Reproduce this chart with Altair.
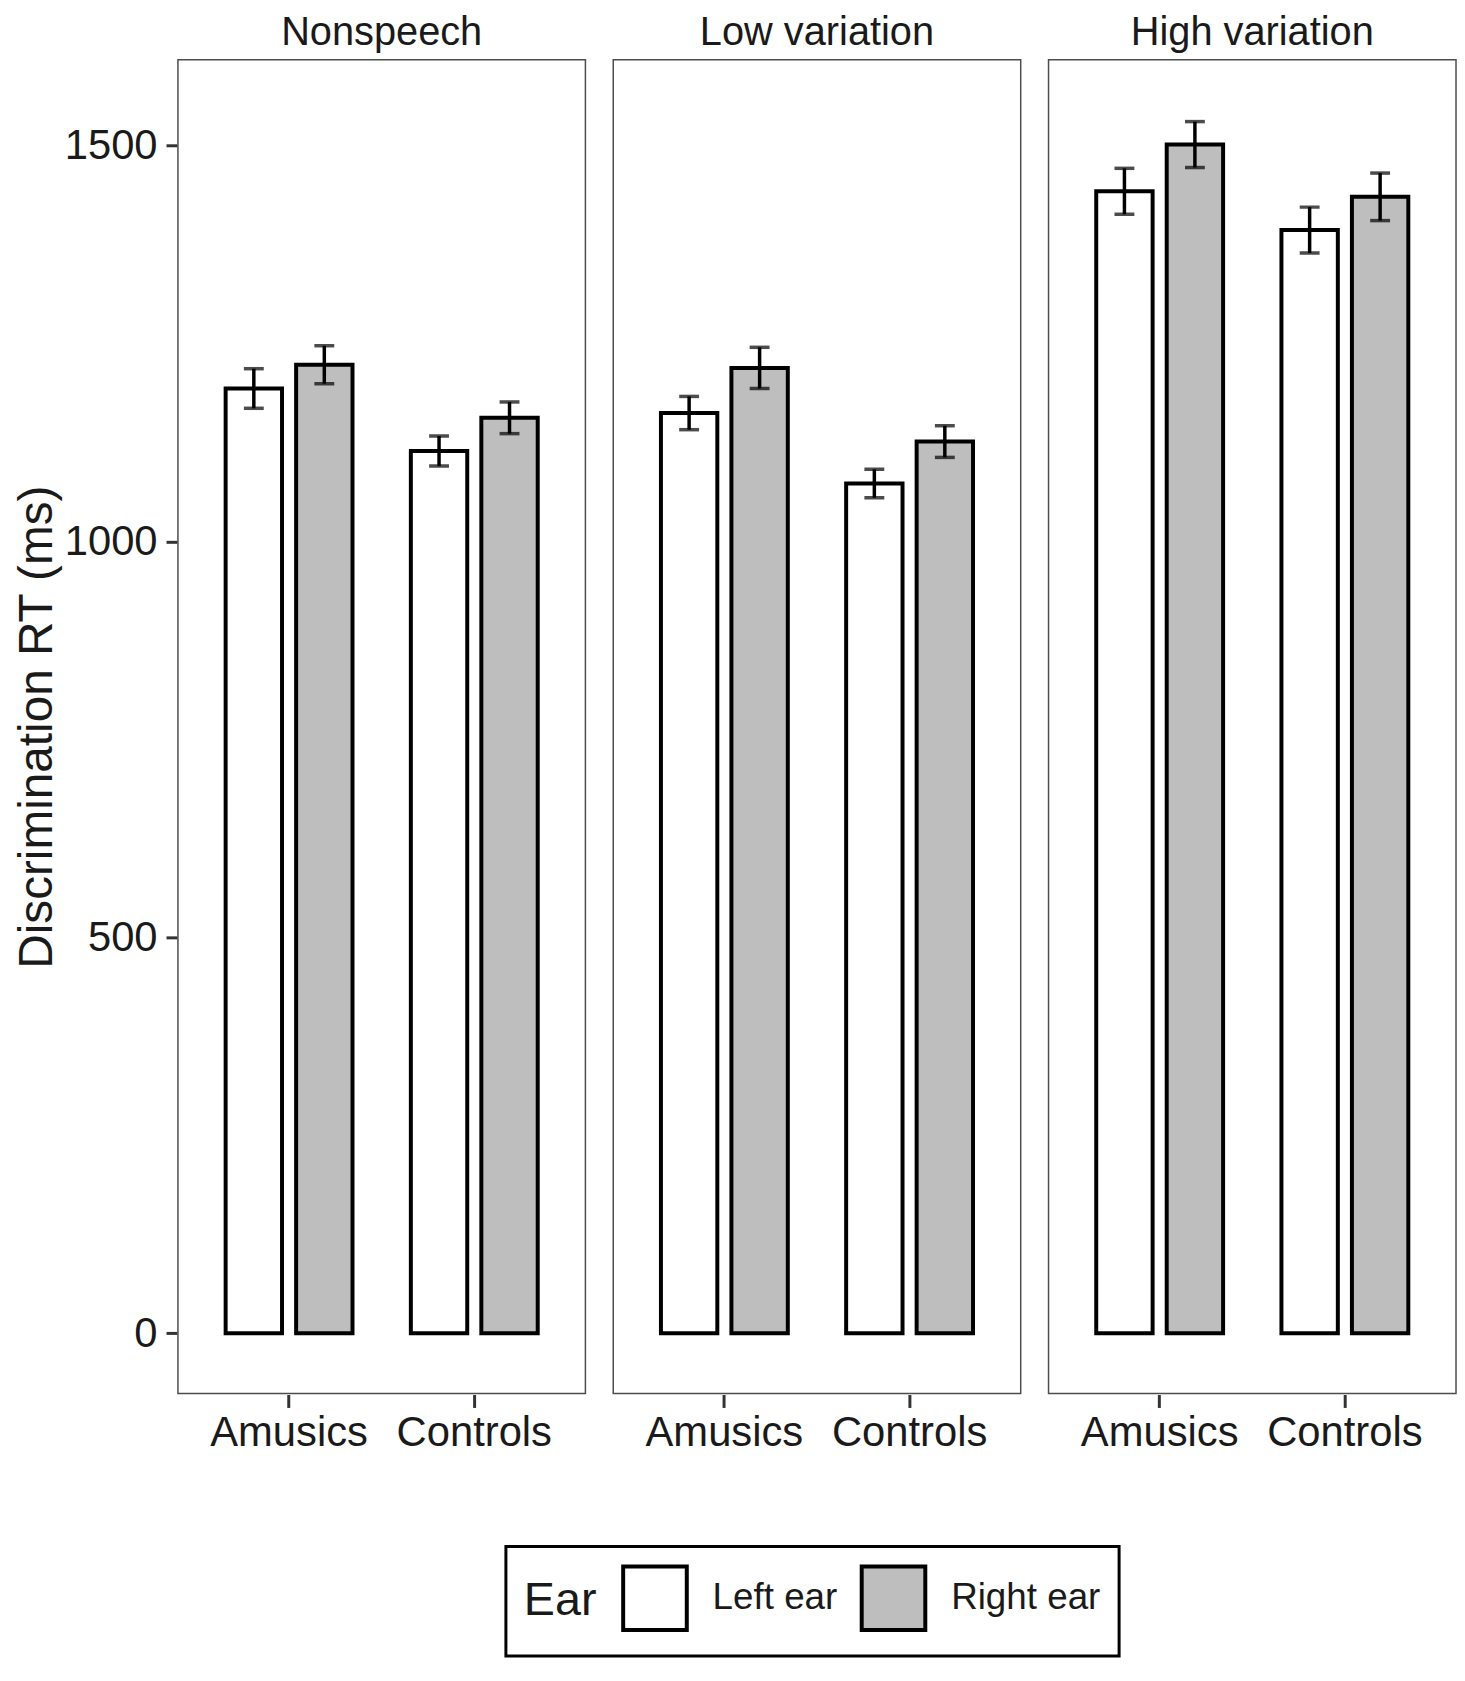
import altair as alt
import pandas as pd

conditions = ["Nonspeech", "Low variation", "High variation"]
groups = ["Amusics", "Controls"]
ears = ["Left ear", "Right ear"]

# means per condition: [Amusics-Left, Amusics-Right, Controls-Left, Controls-Right]
means = {
    "Nonspeech": [1193, 1223, 1114, 1156],
    "Low variation": [1162, 1219, 1073, 1126],
    "High variation": [1442, 1501, 1393, 1435],
}
ses = {
    "Nonspeech": [25, 24, 19, 20],
    "Low variation": [21, 26, 18, 20],
    "High variation": [29, 29, 29, 30],
}

rows = []
for c in conditions:
    i = 0
    for g in groups:
        for e in ears:
            m = means[c][i]
            s = ses[c][i]
            rows.append({"Condition": c, "Group": g, "Ear": e, "RT": m, "lo": m - s, "hi": m + s})
            i += 1
df = pd.DataFrame(rows)

FONT = "Liberation Sans"
TXT = "#1a1a1a"

xenc = alt.X("Group:N", sort=groups, title=None,
             scale=alt.Scale(paddingInner=0.315, paddingOuter=0.2575),
             axis=alt.Axis(labelAngle=0, labelFontSize=42, labelPadding=5, tickSize=13,
                           tickWidth=3, tickColor="#333333", labelColor=TXT, domain=False,
                           labelFont=FONT))
xoff = alt.XOffset("Ear:N", sort=ears, scale=alt.Scale(paddingInner=0.2, paddingOuter=0))
yscale = alt.Scale(domain=[-76, 1608], nice=False, zero=False)

base = alt.Chart(df)

bars = base.mark_bar(stroke="black", strokeWidth=4).encode(
    x=xenc,
    xOffset=xoff,
    y=alt.Y("RT:Q", scale=yscale, title="Discrimination RT (ms)",
            axis=alt.Axis(values=[0, 500, 1000, 1500], format="d", grid=False, domain=False,
                          tickSize=11, tickWidth=3, tickColor="#333333",
                          labelFontSize=42, labelPadding=9, labelColor=TXT, labelFont=FONT,
                          titleFontSize=48, titleFontWeight="normal", titleColor=TXT,
                          titlePadding=2.5, titleFont=FONT)),
    y2=alt.datum(0),
    fill=alt.Fill("Ear:N", sort=ears,
                  scale=alt.Scale(domain=ears, range=["white", "#bebebe"]),
                  legend=alt.Legend(title="Ear", orient="none", legendX=330, legendY=1496,
                                    direction="horizontal", titleOrient="left",
                                    symbolType="square", symbolSize=4096,
                                    symbolStrokeColor="black", symbolStrokeWidth=4,
                                    labelFontSize=37, titleFontSize=47,
                                    titleFontWeight="normal", titleColor=TXT, labelColor=TXT,
                                    labelFont=FONT, titleFont=FONT,
                                    strokeColor="black", padding=18, labelOffset=24,
                                    columnPadding=16, titlePadding=24, titleAnchor="middle",
                                    titleBaseline="middle")),
)

rules = base.mark_rule(color="black", strokeWidth=3.5).encode(
    x=xenc, xOffset=xoff, y=alt.Y("lo:Q", scale=yscale), y2="hi:Q"
)
cap_hi = base.mark_tick(color="black", thickness=3.5, size=20).encode(
    x=xenc, xOffset=xoff, y=alt.Y("hi:Q", scale=yscale)
)
cap_lo = base.mark_tick(color="black", thickness=3.5, size=20).encode(
    x=xenc, xOffset=xoff, y=alt.Y("lo:Q", scale=yscale)
)

layer = alt.layer(bars, rules, cap_hi, cap_lo).properties(width=410, height=1342)

chart = layer.facet(
    column=alt.Column("Condition:N", sort=conditions,
                      header=alt.Header(title=None, labelFontSize=40, labelColor=TXT,
                                        labelFont=FONT, labelPadding=6)),
    spacing=26,
).properties(padding={"left": 6, "top": 0, "right": 0, "bottom": 0}).configure_view(
    stroke="#4d4d4d", strokeWidth=1.5
).configure_legend(strokeWidth=3)

chart.save("out.html", embed_options={"renderer": "svg", "actions": False})
